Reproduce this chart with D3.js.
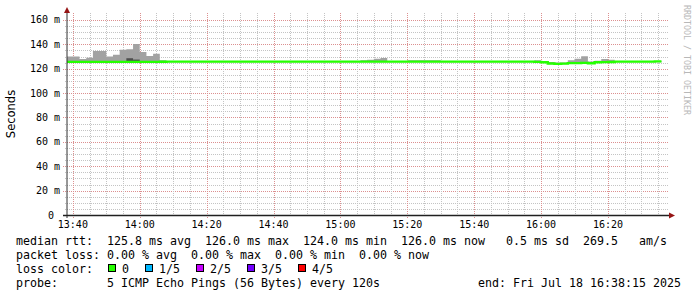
<!DOCTYPE html>
<html>
<head>
<meta charset="utf-8">
<script src="https://cdn.jsdelivr.net/npm/d3@7"></script>
<style>
  body { margin: 0; background: #fff; }
  svg { display: block; }
  text { font-family: "DejaVu Sans Mono", monospace; white-space: pre; }
</style>
</head>
<body>
<svg id="chart" width="697" height="297"></svg>
<script>
// time window of the graph (3 hours, ending at "end:")
const START = new Date('2025-07-18T13:38:15Z');
const END   = new Date('2025-07-18T16:38:15Z');
const FIRST_STEP = new Date('2025-07-18T13:40:00Z');   // end of first 120s step
const STEP_MS = 120 * 1000;

// per-step values in ms (one entry per 120s step, 13:40 .. 16:36)
const median = [
  125.6, 125.6, 125.6, 125.6, 125.6, 125.6, 125.6, 125.6, 125.6, 125.6,
  125.6, 125.6, 125.6, 125.6, 125.7, 125.8, 125.8, 125.8, 125.8, 125.8,
  125.8, 125.8, 125.8, 125.8, 125.8, 125.8, 125.8, 125.8, 125.8, 125.8,
  125.8, 125.8, 125.8, 125.8, 125.8, 125.8, 125.8, 125.8, 125.8, 125.8,
  125.8, 125.8, 125.8, 125.8, 125.8, 125.8, 125.8, 125.8, 125.8, 125.8,
  125.8, 125.8, 125.8, 125.8, 125.8, 125.8, 125.8, 125.8, 125.8, 125.8,
  125.8, 125.8, 125.8, 125.8, 125.8, 125.8, 125.8, 125.8, 125.8, 125.8,
  125.6, 125.3, 124.3, 124.0, 124.2, 124.6, 124.6, 124.8, 124.5, 125.3,
  125.4, 125.5, 125.8, 125.8, 125.8, 125.8, 125.8, 125.8, 126.0
];
const pingMax = [
  130.0, 130.0, 128.0, 129.0, 134.6, 134.6, 130.0, 131.5, 135.5, 136.0,
  140.3, 133.7, 130.5, 132.3, 127.0, 126.2, 126.2, 126.2, 126.2, 126.2,
  126.2, 126.2, 126.2, 126.2, 126.2, 126.2, 126.2, 126.2, 126.2, 126.2,
  126.2, 126.2, 126.2, 126.2, 126.2, 126.2, 126.2, 126.2, 126.2, 126.2,
  126.2, 126.2, 126.2, 126.2, 127.0, 127.3, 128.2, 128.8, 126.2, 126.2,
  126.2, 127.0, 127.0, 127.0, 127.0, 127.0, 126.2, 126.2, 126.2, 126.2,
  126.2, 126.2, 126.2, 126.2, 126.2, 126.2, 126.2, 126.2, 126.2, 126.2,
  127.0, 126.4, 125.5, 125.0, 125.0, 127.0, 128.2, 130.3, 126.0, 126.5,
  128.0, 127.3, 126.2, 126.2, 126.2, 126.2, 126.2, 126.2, 126.4
];
// inner (darker) smoke band, only where it shows above the median line
const innerMax = {9: 128.6, 10: 127.5};

const yTickLabels = [0, 20, 40, 60, 80, 100, 120, 140, 160];
const lossLevels = ['0', '1/5', '2/5', '3/5', '4/5'];
const lossColors = ['#26ff00', '#00b8ff', '#c600ff', '#7200ff', '#ff0000'];

const legendLines = [
  'median rtt:  125.8 ms avg  126.0 ms max  124.0 ms min  126.0 ms now   0.5 ms sd  269.5   am/s',
  'packet loss: 0.00 % avg  0.00 % max  0.00 % min  0.00 % now',
  'loss color:',
  'probe:       5 ICMP Echo Pings (56 Bytes) every 120s'
];
const endLabel = 'end: Fri Jul 18 16:38:15 2025';

const svg = d3.select('#chart');
const x = d3.scaleUtc().domain([START, END]).range([67, 669]);
const y = d3.scaleLinear().domain([0, 165.7]).range([215, 13]);
const crisp = v => Math.round(v) + 0.5;

// ---- grid ----
const grid = svg.append('g').attr('class', 'grid');
const minorY = d3.range(5, 165, 5);
grid.selectAll('.hgrid').data(minorY).join('line')
  .attr('x1', d => d % 20 ? 65 : 63).attr('x2', 669)
  .attr('y1', d => crisp(y(d))).attr('y2', d => crisp(y(d)))
  .attr('stroke', d => d % 20 ? '#c4c4c4' : '#dc9090')
  .attr('stroke-dasharray', '1,1');

const minorX = d3.utcMinute.every(5).range(START, END);
grid.selectAll('.vgrid').data(minorX).join('line')
  .attr('x1', d => crisp(x(d))).attr('x2', d => crisp(x(d)))
  .attr('y1', 13).attr('y2', d => d.getUTCMinutes() % 20 ? 217 : 218)
  .attr('stroke', d => d.getUTCMinutes() % 20 ? '#c4c4c4' : '#dc9090')
  .attr('stroke-dasharray', '1,1');

// ---- data ----
const steps = median.map((m, i) => {
  const t1 = new Date(FIRST_STEP.getTime() + i * STEP_MS);
  return {t0: new Date(t1.getTime() - STEP_MS), t1, median: m, max: pingMax[i], min: m - 0.6, inner: innerMax[i]};
});
const stepPts = (arr, lo, hi) => arr.flatMap(d => [
  {t: d.t0, lo: lo(d), hi: hi(d)}, {t: d.t1, lo: lo(d), hi: hi(d)}
]);

svg.append('clipPath').attr('id', 'plot')
  .append('rect').attr('x', 67).attr('y', 13).attr('width', 602).attr('height', 202);
const plot = svg.append('g').attr('clip-path', 'url(#plot)');

const area = d3.area().x(d => x(d.t)).y0(d => y(d.lo)).y1(d => y(d.hi));
plot.append('path')
  .datum(stepPts(steps, d => d.min, d => d.max))
  .attr('fill', '#a2a2a2')
  .attr('d', area);

const innerSteps = steps.filter(d => d.inner != null);
plot.selectAll('.inner').data(innerSteps).join('path')
  .attr('fill', '#4e4e4e')
  .attr('d', d => area(stepPts([d], s => s.min, s => s.inner)));

const line = d3.line().x(d => x(d.t)).y(d => y(d.hi));
plot.append('path')
  .datum(stepPts(steps, d => d.median, d => d.median))
  .attr('fill', 'none')
  .attr('stroke', lossColors[0])
  .attr('stroke-width', 2.4)
  .attr('d', line);

// ---- axes ----
svg.append('line').attr('x1', 67).attr('x2', 67).attr('y1', 218).attr('y2', 11)
  .attr('stroke', '#303030').attr('stroke-width', 1);
svg.append('line').attr('x1', 63).attr('x2', 670).attr('y1', 215.5).attr('y2', 215.5)
  .attr('stroke', '#202020').attr('stroke-width', 1.4);
svg.append('path').attr('d', 'M64,13L67,7L70,13Z').attr('fill', '#961515');
svg.append('path').attr('d', 'M669,212.5L675,215.5L669,218.5Z').attr('fill', '#961515');

svg.append('g').selectAll('text').data(yTickLabels).join('text')
  .attr('x', 60).attr('y', d => y(d) + 3.5)
  .attr('text-anchor', 'end')
  .attr('font-size', 10)
  .attr('xml:space', 'preserve')
  .text(d => d === 0 ? '0 ' : `${d} m`);

svg.append('g').selectAll('text')
  .data(d3.utcMinute.every(20).range(START, END)).join('text')
  .attr('x', d => x(d)).attr('y', 228)
  .attr('text-anchor', 'middle')
  .attr('font-size', 10)
  .text(d3.utcFormat('%H:%M'));

svg.append('text')
  .attr('transform', 'translate(15,114) rotate(-90)')
  .attr('text-anchor', 'middle')
  .style('font-family', '"DejaVu Sans", sans-serif')
  .attr('font-size', 11.5)
  .text('Seconds');

svg.append('text')
  .attr('transform', 'translate(684,5) rotate(90)')
  .attr('font-size', 8.3)
  .attr('fill', '#b8b8b8')
  .text('RRDTOOL / TOBI OETIKER');

// ---- legend ----
const legend = svg.append('g').attr('font-size', 11.63);
legend.selectAll('text.line').data(legendLines).join('text')
  .attr('class', 'line')
  .attr('x', 16).attr('y', (d, i) => 245 + i * 14)
  .attr('xml:space', 'preserve')
  .text(d => d);
legend.append('text')
  .attr('x', 681).attr('y', 245 + 3 * 14)
  .attr('text-anchor', 'end')
  .text(endLabel);

let cursor = 108;
lossLevels.forEach((lbl, i) => {
  legend.append('rect')
    .attr('x', cursor + 0.5).attr('y', 264.5).attr('width', 7).attr('height', 7)
    .attr('fill', lossColors[i]).attr('stroke', '#000');
  legend.append('text').attr('x', cursor + 14).attr('y', 273).text(lbl);
  cursor += 14 + lbl.length * 7 + 16;
});
</script>
</body>
</html>
